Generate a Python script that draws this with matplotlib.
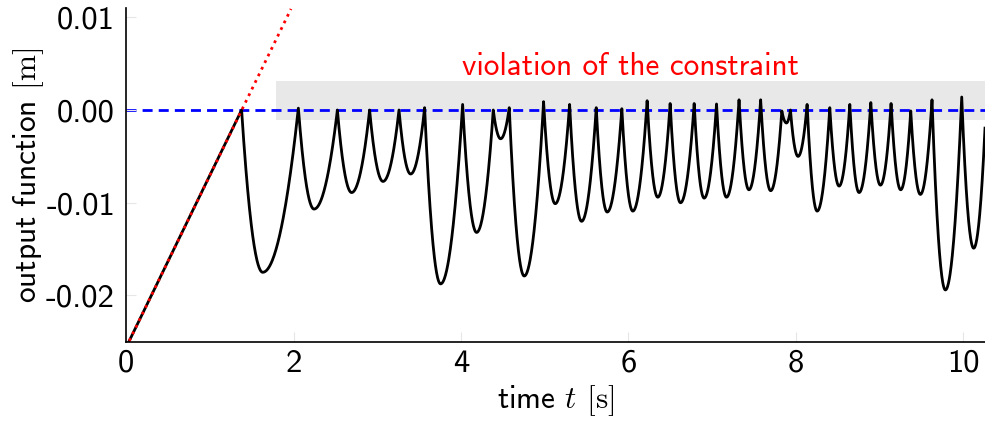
import numpy as np
import matplotlib
matplotlib.use('Agg')
import matplotlib.pyplot as plt

plt.rcParams['font.family'] = ['cmss10', 'DejaVu Sans']
plt.rcParams['mathtext.fontset'] = 'cm'
plt.rcParams['axes.unicode_minus'] = False

# ramp before the first contact (slope of the unconstrained output)
ramp_t = [0.0, 1.38]
ramp_y = [-0.0256, 0.0]
free_t = [0.0, 1.97]
free_y = [-0.0256, 0.0109]

# cusps (peaks) and troughs of the output function
peak_t = [1.38, 2.058, 2.524, 2.909, 3.26, 3.566, 4.02, 4.386, 4.577, 4.987,
          5.298, 5.616, 5.922, 6.224, 6.499, 6.786, 7.053, 7.322, 7.58, 7.833,
          7.936, 8.135, 8.406, 8.645, 8.896, 9.138, 9.373, 9.627, 9.982, 10.27]
peak_y = [0.0, 0.0002, 0.0, 0.0, 0.0, 0.00025, 0.0006, 0.0, 0.00025, 0.0009,
          0.0006, 0.00025, 0.00014, 0.001, 0.0007, 0.0007, 0.00065, 0.0011, 0.0011, -0.0001,
          0.0, 0.0006, 0.00025, 0.0006, 0.0008, 0.0007, -0.0001, 0.0011, 0.0014, 0.0]
trough_t = [1.632, 2.245, 2.694, 3.069, 3.399, 3.757, 4.187, 4.474, 4.756, 5.126,
            5.441, 5.747, 6.053, 6.351, 6.623, 6.905, 7.172, 7.44, 7.70, 7.888,
            8.027, 8.255, 8.517, 8.756, 9.011, 9.253, 9.488, 9.787, 10.125]
trough_y = [-0.0175, -0.01068, -0.0089, -0.0077, -0.0069, -0.01875, -0.0132, -0.0031, -0.0179, -0.0101,
            -0.0120, -0.0110, -0.0109, -0.0094, -0.0100, -0.0095, -0.0094, -0.0086, -0.0087, -0.0014,
            -0.0050, -0.0109, -0.0082, -0.0089, -0.0081, -0.0086, -0.0091, -0.0194, -0.0149]

# build the arcs: parabolic halves between a cusp and the next trough
t_all = list(ramp_t)
y_all = list(ramp_y)
for i in range(len(trough_t)):
    s = np.linspace(0, 1, 60)
    t1 = peak_t[i] + (trough_t[i] - peak_t[i]) * s
    y1 = trough_y[i] + (peak_y[i] - trough_y[i]) * (1 - s) ** 2
    t2 = trough_t[i] + (peak_t[i + 1] - trough_t[i]) * s
    y2 = trough_y[i] + (peak_y[i + 1] - trough_y[i]) * s ** 2
    t_all += list(t1[1:]) + list(t2[1:])
    y_all += list(y1[1:]) + list(y2[1:])

fig = plt.figure(figsize=(9.85, 4.21), dpi=100)
ax = fig.add_axes([0.128, 0.188, 0.872, 0.793])

ax.fill_between([1.79, 10.5], -0.00112, 0.0031, color='#e8e8e8', lw=0, zorder=0)
ax.axhline(0, color='#0000ff', lw=2.0, dashes=(3.6, 2.2), zorder=1)
ax.plot(t_all, y_all, color='black', lw=2.0, zorder=2)
ax.plot(free_t, free_y, color='red', lw=2, linestyle=':', zorder=3)
ax.text(6.02, 0.0047, 'violation of the constraint', color='red', fontsize=22.5,
        ha='center', va='center')

ax.set_xlim(0, 10.26)
ax.set_ylim(-0.025, 0.011)
ax.set_xticks([0, 2, 4, 6, 8, 10])
ax.set_xticklabels(['0', '2', '4', '6', '8', '10'])
ax.set_yticks([0.01, 0.0, -0.01, -0.02])
ax.set_yticklabels(['0.01', '0.00', '-0.01', '-0.02'])
ax.tick_params(direction='in', length=7, color='#e6e6e6', labelsize=23.5)
ax.tick_params(axis='y', pad=8)
ax.tick_params(axis='x', pad=5)
for side in ['top', 'right']:
    ax.spines[side].set_visible(False)
for side in ['left', 'bottom']:
    ax.spines[side].set_linewidth(1.2)

ax.set_xlabel(r'time $t$ $[\mathrm{s}]$', fontsize=22.5, labelpad=4)
ax.set_ylabel(r'output function $[\mathrm{m}]$', fontsize=22.5, labelpad=0)

fig.savefig('out.png', dpi=100)
